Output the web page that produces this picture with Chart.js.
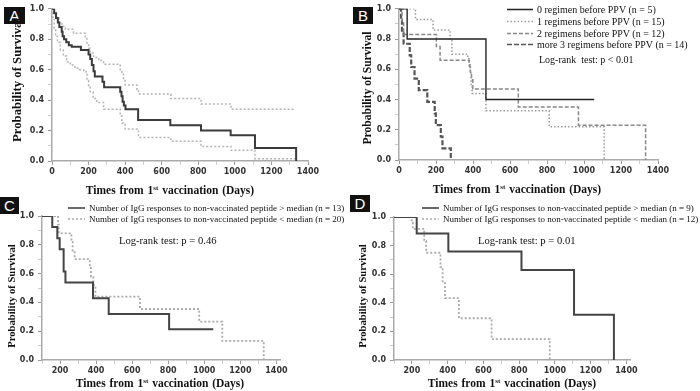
<!DOCTYPE html>
<html>
<head>
<meta charset="utf-8">
<script src="https://cdn.jsdelivr.net/npm/chart.js@4.4.0/dist/chart.umd.min.js"></script>
<style>
  body { margin: 0; background: #fff; }
  #wrap { position: relative; width: 700px; height: 391px; overflow: hidden; background: #fff; }
  canvas { position: absolute; }
  .t { position: absolute; white-space: nowrap; font-family: "Liberation Serif", serif; color: #111; }
  .xt { font-weight: bold; font-size: 11.5px; transform: translate(-50%, -50%); word-spacing: 1px; }
  .xt sup { font-size: 7px; }
  .yt { font-weight: bold; transform: translate(-50%, -50%) rotate(-90deg); }
  .tag { position: absolute; background: #111; color: #fff; font-family: "Liberation Sans", sans-serif;
         font-size: 15px; line-height: 17px; text-align: center; }
  .leg { position: absolute; white-space: nowrap; font-family: "Liberation Serif", serif; color: #111;
         display: flex; align-items: center; transform: translateY(-50%); }
  .leg svg { margin-right: 4px; }
</style>
</head>
<body>
<div id="wrap">
  <canvas id="ca" width="350" height="195" style="left:0;top:0"></canvas>
  <canvas id="cb" width="350" height="195" style="left:350px;top:0"></canvas>
  <canvas id="cc" width="350" height="196" style="left:0;top:195px"></canvas>
  <canvas id="cd" width="350" height="196" style="left:350px;top:195px"></canvas>

  <div class="tag" style="left:4px;top:7px;width:21px;height:17px">A</div>
  <div class="tag" style="left:353px;top:7px;width:20px;height:17px">B</div>
  <div class="tag" style="left:0;top:197px;width:19px;height:17px">C</div>
  <div class="tag" style="left:350px;top:195px;width:20px;height:17px">D</div>

  <div class="t yt" style="left:17px;top:80px;font-size:12.7px">Probability of Survival</div>
  <div class="t yt" style="left:367px;top:88px;font-size:11.6px">Probability of Survival</div>
  <div class="t yt" style="left:11px;top:296px;font-size:10.6px">Probability of Survival</div>
  <div class="t yt" style="left:362px;top:296px;font-size:10.6px">Probability of Survival</div>

  <div class="t xt" style="left:170px;top:190px">Times from 1<sup>st</sup> vaccination (Days)</div>
  <div class="t xt" style="left:517px;top:189px">Times from 1<sup>st</sup> vaccination (Days)</div>
  <div class="t xt" style="left:160px;top:383px">Times from 1<sup>st</sup> vaccination (Days)</div>
  <div class="t xt" style="left:512px;top:383px">Times from 1<sup>st</sup> vaccination (Days)</div>

  <div class="t" style="left:539px;top:54px;font-size:10px">Log-rank&nbsp; test: p &lt; 0.01</div>
  <div class="t" style="left:119px;top:235px;font-size:10.6px">Log-rank test: p = 0.46</div>
  <div class="t" style="left:478px;top:235px;font-size:10.6px">Log-rank test: p = 0.01</div>
  <div id="legs"></div>
</div>
<script>
// axis ticks
const xMajor = [0, 200, 400, 600, 800, 1000, 1200, 1400];
const yMajor = [0, 0.2, 0.4, 0.6, 0.8, 1.0];

// A: overall survival with 95% CI
const aDays = [0, 12, 22, 32, 40, 53, 58, 66, 78, 92, 108, 158, 200, 209, 218, 227, 234, 276, 285, 373, 380, 386, 393, 402, 471, 647, 815, 977, 1110, 1335];
const aSurv = [1, 0.97, 0.94, 0.91, 0.88, 0.85, 0.82, 0.80, 0.78, 0.76, 0.75, 0.73, 0.70, 0.67, 0.63, 0.59, 0.555, 0.52, 0.485, 0.455, 0.425, 0.39, 0.365, 0.34, 0.27, 0.235, 0.20, 0.17, 0.085, 0];
const aUpDays = [0, 10, 25, 38, 55, 73, 118, 182, 191, 200, 209, 227, 255, 282, 373, 382, 391, 400, 464, 473, 650, 815, 979, 1325];
const aUp = [1, 0.97, 0.94, 0.91, 0.885, 0.865, 0.84, 0.81, 0.775, 0.74, 0.71, 0.68, 0.66, 0.635, 0.60, 0.57, 0.535, 0.50, 0.47, 0.44, 0.41, 0.375, 0.34, 0.34];
const aLoDays = [0, 5, 12, 20, 30, 45, 62, 80, 100, 125, 150, 173, 186, 191, 200, 209, 225, 245, 282, 373, 382, 400, 473, 650, 815, 979, 1110, 1330];
const aLo = [1, 0.93, 0.87, 0.82, 0.78, 0.73, 0.69, 0.65, 0.63, 0.61, 0.60, 0.59, 0.57, 0.53, 0.49, 0.455, 0.41, 0.385, 0.34, 0.295, 0.25, 0.21, 0.155, 0.13, 0.095, 0.07, 0.015, 0.015];

// B: by number of prior regimens
const bLabels = ['0 regimen before PPV (n = 5)', '1 regimens before PPV (n = 15)', '2 regimens before PPV (n = 12)', 'more 3 regimens before PPV (n = 14)'];
const b0Days = [0, 44, 470, 1055];
const b0Surv = [1, 0.8, 0.4, 0.4];
const b1Days = [0, 89, 184, 276, 286, 372, 378, 385, 390, 395, 470, 812, 1109];
const b1Surv = [1, 0.93, 0.86, 0.79, 0.70, 0.67, 0.63, 0.58, 0.50, 0.44, 0.325, 0.22, 0];
const b2Days = [0, 16, 25, 202, 222, 380, 386, 392, 399, 645, 970, 1333];
const b2Surv = [1, 0.92, 0.83, 0.75, 0.66, 0.62, 0.58, 0.53, 0.47, 0.35, 0.23, 0];
const b3Days = [0, 11, 16, 25, 58, 66, 84, 107, 153, 193, 199, 226, 235, 280];
const b3Surv = [1, 0.923, 0.846, 0.769, 0.692, 0.615, 0.538, 0.462, 0.385, 0.308, 0.231, 0.154, 0.077, 0];

// C and D: IgG responses to non-vaccinated peptide
const cLabels = ['Number of IgG responses to non-vaccinated  peptide > median  (n = 13)', 'Number of IgG responses to non-vaccinated  peptide < median  (n = 20)'];
const cHiDays = [100, 157, 185, 198, 220, 230, 383, 470, 805, 1050];
const cHiSurv = [1, 0.923, 0.846, 0.769, 0.615, 0.538, 0.428, 0.32, 0.214, 0.214];
const cLoDays = [100, 189, 193, 263, 270, 281, 365, 372, 385, 396, 643, 972, 1100, 1330];
const cLoSurv = [1, 0.94, 0.88, 0.82, 0.76, 0.70, 0.64, 0.58, 0.52, 0.44, 0.354, 0.266, 0.133, 0];

const dLabels = ['Number of IgG responses to non-vaccinated  peptide > median  (n = 9)', 'Number of IgG responses to non-vaccinated  peptide < median  (n = 12)'];
const dHiDays = [100, 227, 404, 813, 1107, 1330];
const dHiSurv = [1, 0.885, 0.759, 0.63, 0.316, 0];
const dLoDays = [100, 199, 205, 269, 280, 360, 372, 385, 463, 646, 971];
const dLoSurv = [1, 0.96, 0.917, 0.833, 0.75, 0.65, 0.54, 0.432, 0.292, 0.146, 0];

function pts(days, surv) {
  return days.map((d, i) => ({ x: d, y: surv[i] }));
}

function line(days, surv, color, width, dash) {
  return { data: pts(days, surv), borderColor: color, borderWidth: width, borderDash: dash || [], fill: false };
}

const tickFont = { family: 'DejaVu Sans', size: 8, weight: 'bold' };

function panel(id, datasets, xMin, xMax, yW, xH, pad) {
  const xs = [];
  for (let v = Math.ceil(xMin / 100) * 100; v <= 1400; v += 100) xs.push(v);
  const ys = [];
  for (let i = 0; i <= 10; i++) ys.push(i / 10);
  return new Chart(document.getElementById(id), {
    type: 'line',
    data: { datasets },
    options: {
      responsive: false,
      animation: false,
      layout: { padding: pad },
      plugins: { legend: { display: false }, tooltip: { enabled: false } },
      elements: { point: { radius: 0 }, line: { stepped: 'before', tension: 0 } },
      scales: {
        x: {
          type: 'linear', min: xMin, max: xMax,
          afterBuildTicks: s => { s.ticks = xs.map(v => ({ value: v })); },
          afterFit: s => { s.height = xH; },
          ticks: {
            autoSkip: false, maxRotation: 0, padding: 2, color: '#333', font: tickFont,
            callback: v => xMajor.includes(v) ? String(v) : ''
          },
          grid: {
            drawOnChartArea: false, tickLength: 4, tickWidth: 1,
            tickColor: c => xMajor.includes(c.tick.value) ? '#999' : '#ccc'
          },
          border: { color: '#aaa', width: 1.5 }
        },
        y: {
          min: 0, max: 1,
          afterBuildTicks: s => { s.ticks = ys.map(v => ({ value: v })); },
          afterFit: s => { s.width = yW; },
          ticks: {
            autoSkip: false, padding: 4, color: '#333', font: tickFont,
            callback: v => yMajor.some(m => Math.abs(m - v) < 1e-6) ? v.toFixed(1) : ''
          },
          grid: {
            drawOnChartArea: false, tickLength: 4, tickWidth: 1,
            tickColor: c => yMajor.some(m => Math.abs(m - c.tick.value) < 1e-6) ? '#999' : '#ccc'
          },
          border: { color: '#aaa', width: 1.5 }
        }
      }
    }
  });
}

const bSets = [
  line(b0Days, b0Surv, '#222', 1.4),
  line(b1Days, b1Surv, '#999', 1.5, [1.5, 2]),
  line(b2Days, b2Surv, '#888', 1.5, [4, 2]),
  line(b3Days, b3Surv, '#555', 2.2, [5, 2])
];
const cSets = [line(cHiDays, cHiSurv, '#444', 2), line(cLoDays, cLoSurv, '#aaa', 1.8, [2, 2])];
const dSets = [line(dHiDays, dHiSurv, '#444', 2), line(dLoDays, dLoSurv, '#aaa', 1.8, [2, 2])];

panel('ca', [
  line(aDays, aSurv, '#3a3a3a', 2),
  line(aUpDays, aUp, '#b5b5b5', 1.5, [2, 2]),
  line(aLoDays, aLo, '#b5b5b5', 1.5, [2, 2])
], 0, 1400, 52, 34, { left: 0, right: 42, top: 5, bottom: 0 });
panel('cb', bSets, 0, 1400, 49, 35, { left: 0, right: 42, top: 5, bottom: 0 });
panel('cc', cSets, 100, 1420, 42, 31, { left: 0, right: 70, top: 21, bottom: 0 });
panel('cd', dSets, 100, 1420, 44, 31, { left: 0, right: 70, top: 22, bottom: 0 });

// legends as html text with sample strokes taken from the datasets
function legend(sets, labels, x, ys, size, sw) {
  const host = document.getElementById('legs');
  sets.forEach((ds, i) => {
    const row = document.createElement('div');
    row.className = 'leg';
    row.style.left = x + 'px';
    row.style.top = ys[i] + 'px';
    row.style.fontSize = size + 'px';
    row.innerHTML = '<svg width="' + sw + '" height="4"><line x1="0" y1="2" x2="' + sw + '" y2="2" stroke="' +
      ds.borderColor + '" stroke-width="' + Math.min(ds.borderWidth, 1.6) + '" stroke-dasharray="' +
      ds.borderDash.join(' ') + '"/></svg><span></span>';
    row.querySelector('span').textContent = labels[i];
    host.appendChild(row);
  });
}
legend(bSets, bLabels, 507, [9, 21, 33, 44], 10, 26);
legend(cSets, cLabels, 68, [208, 219], 9, 17);
legend(dSets, dLabels, 422, [208, 219], 9, 17);
</script>
</body>
</html>
